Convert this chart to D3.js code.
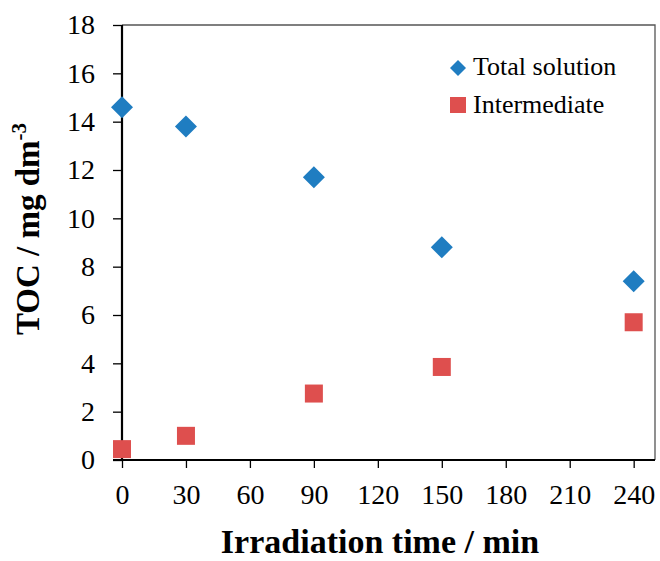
<!DOCTYPE html>
<html>
<head>
<meta charset="utf-8">
<script src="https://cdn.jsdelivr.net/npm/d3@7"></script>
<style>
  body { margin: 0; background: #fff; }
</style>
</head>
<body>
<script>
let times = [0, 30, 90, 150, 240];
let totalSolution = [14.6, 13.8, 11.7, 8.8, 7.4];
let intermediate = [0.45, 1.0, 2.75, 3.85, 5.7];
let xTicks = [0, 30, 60, 90, 120, 150, 180, 210, 240];
let yTicks = [0, 2, 4, 6, 8, 10, 12, 14, 16, 18];

let width = 660, height = 561;
let plotLeft = 122, plotRight = 655, plotTop = 25, plotBottom = 460;
let serif = "'Liberation Serif', 'DejaVu Serif', serif";

let svg = d3.select("body").append("svg")
    .attr("width", width)
    .attr("height", height)
    .style("font-family", serif);

let x = d3.scaleLinear().domain([0, 250]).range([plotLeft, plotRight]);
let y = d3.scaleLinear().domain([0, 18]).range([plotBottom, plotTop]);

// frame top/right
svg.append("path")
    .attr("d", `M${plotLeft},${plotTop}H${plotRight}V${plotBottom}`)
    .attr("fill", "none")
    .attr("stroke", "#555")
    .attr("stroke-width", 1.3);

let yAxis = d3.axisLeft(y).tickValues(yTicks).tickSize(9).tickPadding(18);
let gy = svg.append("g").attr("transform", `translate(${plotLeft},0)`).call(yAxis);

let xAxis = d3.axisBottom(x).tickValues(xTicks).tickSize(8).tickPadding(16);
let gx = svg.append("g").attr("transform", `translate(0,${plotBottom})`).call(xAxis);

[gx, gy].forEach(g => {
    g.attr("font-family", null).attr("font-size", null);
    g.select(".domain").attr("stroke", "#000").attr("stroke-width", 2.2);
    g.selectAll(".tick line").attr("stroke", "#000").attr("stroke-width", 1.3);
    g.selectAll(".tick text").attr("fill", "#000")
        .style("font-family", serif).style("font-size", "28px");
});
gx.select(".domain").attr("d", `M${plotLeft - 9},0H${plotRight}`);
gy.select(".domain").attr("d", `M0,${plotTop}V${plotBottom}`);

let blue = "#1F7DC1", red = "#DE4F4E";

svg.selectAll(".total")
    .data(times)
    .enter()
        .append("path")
        .attr("class", "total")
        .attr("transform", (d, i) => `translate(${x(d)},${y(totalSolution[i])})`)
        .attr("d", "M0,-11L11,0L0,11L-11,0Z")
        .attr("fill", blue);

svg.selectAll(".inter")
    .data(times)
    .enter()
        .append("rect")
        .attr("class", "inter")
        .attr("x", (d) => x(d) - 9)
        .attr("y", (d, i) => y(intermediate[i]) - 9)
        .attr("width", 18)
        .attr("height", 18)
        .attr("fill", red);

// legend
let legend = svg.append("g").attr("transform", "translate(458,0)");
legend.append("path")
    .attr("d", "M0,60L8,68L0,76L-8,68Z")
    .attr("fill", blue);
legend.append("text").attr("x", 15).attr("y", 75)
    .style("font-family", serif).style("font-size", "26px").text("Total solution");
legend.append("rect")
    .attr("x", -8).attr("y", 97).attr("width", 16).attr("height", 16)
    .attr("fill", red);
legend.append("text").attr("x", 15).attr("y", 113)
    .style("font-family", serif).style("font-size", "26px").text("Intermediate");

// axis titles
svg.append("text")
    .attr("x", 380)
    .attr("y", 553)
    .attr("text-anchor", "middle")
    .style("font-family", serif)
    .style("font-size", "34px")
    .style("font-weight", "bold")
    .text("Irradiation time / min");

let yt = svg.append("text")
    .attr("transform", "translate(39,229) rotate(-90)")
    .attr("text-anchor", "middle")
    .style("font-family", serif)
    .style("font-size", "33px")
    .style("font-weight", "bold");
yt.append("tspan").text("TOC / mg dm");
yt.append("tspan").attr("dy", -13).style("font-size", "21px").text("-3");
</script>
</body>
</html>
